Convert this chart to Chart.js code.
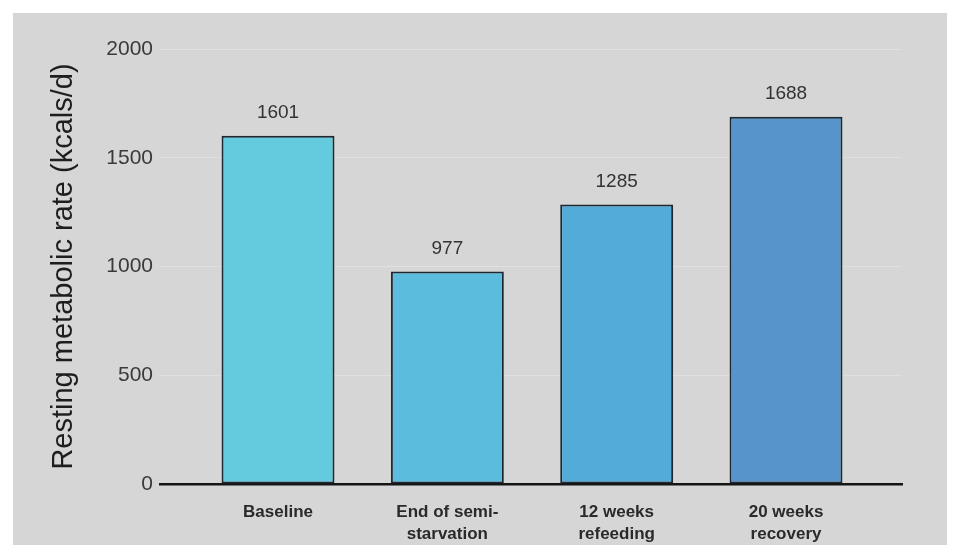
<!DOCTYPE html>
<html>
<head>
<meta charset="utf-8">
<script src="https://cdn.jsdelivr.net/npm/chart.js@4.4.1/dist/chart.umd.min.js"></script>
<style>
  html, body { margin: 0; padding: 0; background: #ffffff; }
  #panel {
    position: absolute; left: 13px; top: 13px;
    width: 934px; height: 532px;
    background: #d6d6d6;
  }
</style>
</head>
<body>
<div id="panel"><canvas id="myChart"></canvas></div>
<script>
// categories (each entry split in display lines)
const categories = [
  ['Baseline'],
  ['End of semi-', 'starvation'],
  ['12 weeks', 'refeeding'],
  ['20 weeks', 'recovery']
];
const rmrValues = [1601, 977, 1285, 1688];
const barColors = ['#64cade', '#5bbcdd', '#53abd9', '#5694cb'];
const yTicks = [0, 500, 1000, 1500, 2000];

const FONT = '"Liberation Sans", Arial, Helvetica, sans-serif';

// draws the number above every bar
const valueLabels = {
  id: 'valueLabels',
  afterDatasetsDraw(chart) {
    const ctx = chart.ctx;
    const meta = chart.getDatasetMeta(0);
    ctx.save();
    ctx.font = '19px ' + FONT;
    ctx.fillStyle = '#333333';
    ctx.textAlign = 'center';
    ctx.textBaseline = 'middle';
    meta.data.forEach(function (bar, i) {
      ctx.fillText(String(rmrValues[i]), bar.x, bar.y - 23);
    });
    ctx.restore();
  }
};

const data = {
  datasets: [{
    label: 'Resting metabolic rate',
    data: rmrValues.map(function (v, i) { return { x: i, y: v }; }),
    backgroundColor: barColors,
    borderColor: '#1d2830',
    borderWidth: 2,
    borderSkipped: false,
    categoryPercentage: 1.0,
    barPercentage: 0.667
  }]
};

const config = {
  type: 'bar',
  data: data,
  plugins: [valueLabels],
  options: {
    responsive: true,
    maintainAspectRatio: false,
    animation: false,
    layout: { padding: { top: 36, right: 45, bottom: 0, left: 0 } },
    plugins: {
      legend: { display: false },
      tooltip: { enabled: false }
    },
    scales: {
      x: {
        type: 'linear',
        offset: false,
        min: -0.697,
        max: 3.685,
        afterBuildTicks: function (axis) {
          axis.ticks = categories.map(function (c, i) { return { value: i }; });
        },
        afterFit: function (axis) { axis.height = 61; },
        ticks: {
          autoSkip: false,
          maxRotation: 0,
          padding: 9,
          color: '#2a2a2a',
          font: { family: FONT, size: 17, weight: 'bold', lineHeight: 1.3 },
          callback: function (value) { return categories[value] || ''; }
        },
        grid: { display: false },
        border: { display: true, color: '#151515', width: 2.5 }
      },
      y: {
        min: 0,
        max: 2000,
        afterBuildTicks: function (axis) {
          axis.ticks = yTicks.map(function (v) { return { value: v }; });
        },
        afterFit: function (axis) { axis.width = 147; },
        ticks: {
          padding: 7,
          color: '#3a3a3a',
          font: { family: FONT, size: 21 },
          callback: function (value) { return String(value); }
        },
        grid: {
          color: '#e0e0e0',
          lineWidth: 1,
          drawTicks: false
        },
        border: { display: false },
        title: {
          display: true,
          text: 'Resting metabolic rate (kcals/d)',
          color: '#1e1e1e',
          font: { family: FONT, size: 29 },
          padding: { top: 34, bottom: 0 }
        }
      }
    }
  }
};

var myChart = new Chart(document.getElementById('myChart'), config);
</script>
</body>
</html>
